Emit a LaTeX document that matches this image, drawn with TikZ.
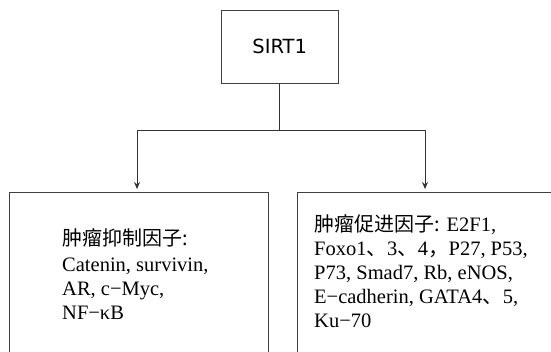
\documentclass[tikz,border=0pt]{standalone}
\usepackage{fontspec}
\setmainfont{Liberation Serif}
\newfontfamily\cjk{Noto Sans CJK SC}
\newfontfamily\sirtfont{DejaVu Sans}
\usetikzlibrary{arrows.meta}
\begin{document}
\begin{tikzpicture}[x=1pt,y=-1pt,
  box/.style={draw=black!75, line width=0.9pt, inner sep=0pt, anchor=north west},
  conn/.style={draw=black!80, line width=0.9pt},
  arr/.style={conn, shorten >=3pt, -{Stealth[length=7pt,width=6pt]}},
  txt/.style={anchor=base west, inner sep=0pt, font=\fontsize{20.5}{24}\selectfont},
  zh/.style={font=\cjk\fontsize{20}{24}\selectfont}]
\useasboundingbox (0,0) rectangle (551,351);
\clip (0,0) rectangle (551,351);
\node[box, minimum width=116.5pt, minimum height=72.5pt] (sirt) at (221,10) {};
\node[font=\sirtfont\fontsize{19.5}{23}\selectfont] (sirtlabel) at (sirt.center) {SIRT1};
\node[box, minimum width=259pt, minimum height=180pt] (lbox) at (8.5,192) {};
\node[box, minimum width=270pt, minimum height=180pt] (rbox) at (297,192) {};
\coordinate (split) at (sirt.south |- 0,130);
\coordinate (lturn) at (137,130);
\coordinate (rturn) at (425,130);
\draw[conn] (sirt.south) -- (split);
\draw[conn] (lturn) -- (rturn);
\draw[arr] (lturn) -- (lturn |- lbox.north);
\draw[arr] (rturn) -- (rturn |- rbox.north);
% left box text
\node[txt, zh] (l1) at (62,245) {肿瘤抑制因子:};
\node[txt] (l2) at (62,271) {Catenin, survivin,};
\node[txt] (l3) at (62,295) {AR, c−Myc,};
\node[txt] (l4) at (62,319) {NF−κB};
% right box text
\node[txt] (r1) at (314,231) {{\cjk\fontsize{20}{24}\selectfont 肿瘤促进因子:} E2F1,};
\node[txt] (r2) at (314,255) {Foxo1{\cjk 、}3{\cjk 、}4{\cjk ，}P27, P53,};
\node[txt] (r3) at (314,279) {P73, Smad7, Rb, eNOS,};
\node[txt] (r4) at (314,303) {E−cadherin, GATA4{\cjk 、}5,};
\node[txt] (r5) at (314,327) {Ku−70};
\end{tikzpicture}
\end{document}
